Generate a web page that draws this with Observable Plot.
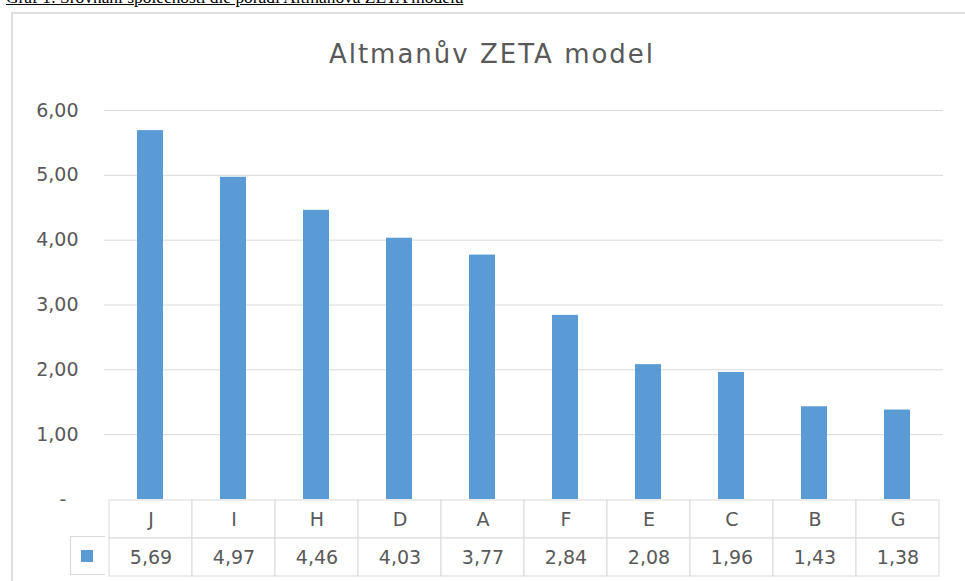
<!DOCTYPE html>
<html>
<head>
<meta charset="utf-8">
<script src="https://cdn.jsdelivr.net/npm/d3@7"></script>
<script src="https://cdn.jsdelivr.net/npm/@observablehq/plot@0.6"></script>
<style>
  html, body { margin: 0; padding: 0; background: #ffffff; }
  body { width: 965px; height: 581px; overflow: hidden; position: relative; }
  #caption { position: absolute; left: 6px; top: -12px; font-family: "Liberation Serif", serif; font-size: 17.4px; line-height: 18px; color: #000; text-decoration: underline; white-space: nowrap; }
  #frame { position: absolute; left: 11px; top: 12px; width: 1200px; height: 1200px; border: 2px solid #dedede; box-sizing: border-box; }
  #chart { position: absolute; left: 0; top: 0; }
  #table { position: absolute; left: 0; top: 499px; }
  #title { position: absolute; left: 0; width: 984px; top: 41px; text-align: center; font-family: "DejaVu Sans", sans-serif; font-size: 26px; line-height: 26px; letter-spacing: 2px; color: #595959; white-space: nowrap; }
  #legendcell { position: absolute; left: 70px; top: 536px; width: 35px; height: 39px; box-sizing: border-box; border: 1px solid #d9d9d9; border-right: none; background: #fff; }
  #legendcell span { position: absolute; left: 10px; top: 13px; width: 12px; height: 12px; background: #5b9bd5; }
</style>
</head>
<body>
<div id="chart"></div>
<div id="table"></div>
<div id="frame"></div>
<div id="caption">Graf 1: Srovnání společností dle pořadí Altmanova ZETA modelu</div>
<div id="title">Altmanův ZETA model</div>
<div id="legendcell"><span></span></div>
<script>
const categories = ["J", "I", "H", "D", "A", "F", "E", "C", "B", "G"];
const values = [5.69, 4.97, 4.46, 4.03, 3.77, 2.84, 2.08, 1.96, 1.43, 1.38];
const yTicks = [0, 1, 2, 3, 4, 5, 6];
const yTickLabels = ["-\u00a0\u00a0", "1,00", "2,00", "3,00", "4,00", "5,00", "6,00"];
const gridTicks = [1, 2, 3, 4, 5, 6];

const data = categories.map((c, i) => ({name: c, value: values[i]}));
const fmt = v => v.toFixed(2).replace(".", ",");

const baseStyle = {fontFamily: "DejaVu Sans, sans-serif", fontSize: "19px", color: "#595959", background: "transparent"};

const chart = Plot.plot({
  width: 965,
  height: 512,
  marginTop: 110,
  marginBottom: 13,
  marginLeft: 104,
  marginRight: 22,
  style: baseStyle,
  x: {domain: categories, paddingInner: 0.69, paddingOuter: 0.345, axis: null},
  y: {domain: [0, 6], axis: null},
  marks: [
    Plot.gridY(gridTicks, {stroke: "#d9d9d9", strokeOpacity: 1}),
    Plot.barY(data, {x: "name", y: "value", fill: "#5b9bd5"}),
    Plot.axisY(yTicks, {tickSize: 0, tickPadding: 26, label: null, tickFormat: d => yTickLabels[yTicks.indexOf(d)], fill: "#595959"})
  ]
});
document.getElementById("chart").append(chart);

const table = Plot.plot({
  width: 965,
  height: 78,
  marginTop: 1,
  marginBottom: 1,
  marginLeft: 104,
  marginRight: 22,
  style: baseStyle,
  x: {domain: categories, padding: 0, axis: null},
  y: {domain: ["cat", "val"], padding: 0, axis: null},
  marks: [
    Plot.cell(data, {x: "name", y: () => "cat", fill: "white", stroke: "#d9d9d9", inset: 0}),
    Plot.cell(data, {x: "name", y: () => "val", fill: "white", stroke: "#d9d9d9", inset: 0}),
    Plot.text(data, {x: "name", y: () => "cat", text: "name", fill: "#595959"}),
    Plot.text(data, {x: "name", y: () => "val", text: d => fmt(d.value), fill: "#595959"})
  ]
});
document.getElementById("table").append(table);
</script>
</body>
</html>
